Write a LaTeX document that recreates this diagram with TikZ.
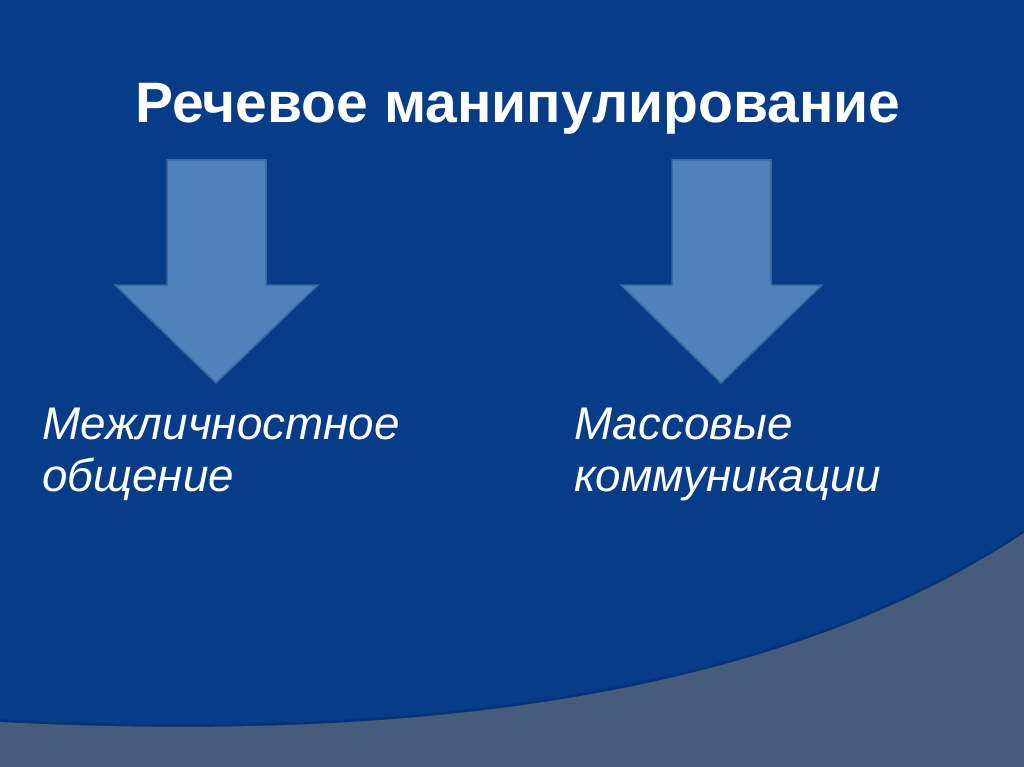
\documentclass[tikz,border=0pt]{standalone}
\usepackage{fontspec}
\setmainfont{Liberation Sans}
\definecolor{bgblue}{RGB}{7,60,136}
\definecolor{bandgray}{RGB}{71,91,122}
\definecolor{arrfill}{RGB}{79,129,189}
\definecolor{arrline}{RGB}{62,102,156}
\definecolor{shadeblue}{RGB}{6,52,120}
\begin{document}
\begin{tikzpicture}[x=1pt,y=-1pt,
  downarrow/.style={fill=arrfill,draw=arrline,line width=1.5pt,line join=miter},
  titletext/.style={text=white,inner sep=0pt,font=\bfseries\fontsize{57}{68}\selectfont},
  itemtext/.style={text=white,inner sep=0pt,align=left,font=\itshape\fontsize{45.8}{52}\selectfont}]
\useasboundingbox (0,0) rectangle (1024,767);
\fill[bgblue] (0,0) rectangle (1024,767);
% bottom band
\draw[shadeblue,line width=2.5pt] (0,720.5) .. controls (350,738.5) and (750,713.5) .. (1024,531.5);
\fill[bandgray] (0,722) .. controls (350,740) and (750,715) .. (1024,533) -- (1024,767) -- (0,767) -- cycle;
% title
\node[titletext,anchor=base] (title) at (518,123) {Речевое манипулирование};
% arrows
\draw[downarrow] (167,160) -- (266,160) -- (266,285) -- (318,285) -- (216,383) -- (115,285) -- (167,285) -- cycle;
\draw[downarrow] (672,160) -- (771,160) -- (771,285) -- (822,285) -- (721,383) -- (621,285) -- (672,285) -- cycle;
% labels
\node[itemtext,anchor=north west] (left) at (42,408) {Межличностное\\общение};
\node[itemtext,anchor=north west] (right) at (574,408) {Массовые\\коммуникации};
\end{tikzpicture}
\end{document}
